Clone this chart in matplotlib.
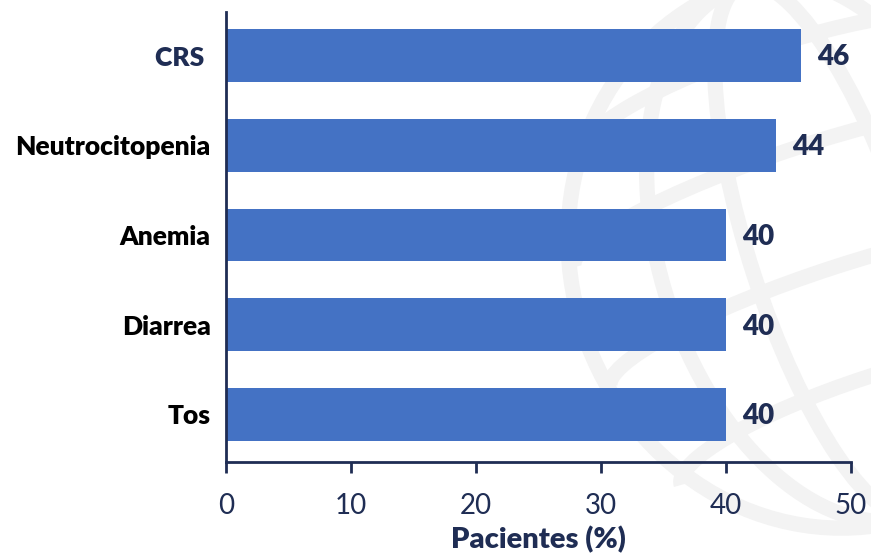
import numpy as np
import matplotlib.pyplot as plt
from matplotlib.patches import Ellipse, Arc

plt.rcParams['font.family'] = ['Lato', 'DejaVu Sans']

categories = ['Tos', 'Diarrea', 'Anemia', 'Neutrocitopenia', 'CRS ']
values = [40, 40, 40, 44, 46]
label_colors = ['black', 'black', 'black', 'black', '#1f2d54']
xticks = [0, 10, 20, 30, 40, 50]

navy = '#1f2d54'
bar_color = '#4472c4'

fig = plt.figure(figsize=(8.71, 5.53), dpi=100)

# faint globe watermark in the background
bg = fig.add_axes([0, 0, 1, 1], zorder=0)
bg.set_xlim(0, 871)
bg.set_ylim(553, 0)
bg.axis('off')
wm = '#f3f3f3'
cx, cy = 830, 250
for w in [520, 340, 160]:
    bg.add_patch(Ellipse((cx, cy), w, 560, angle=-18, fill=False, ec=wm, lw=11))
for dy, w in [(-160, 420), (-60, 500), (60, 500), (170, 420)]:
    bg.add_patch(Arc((cx + dy * 0.3, cy + dy), w, 90, angle=-18, theta1=180, theta2=360, ec=wm, lw=11))

ax = fig.add_axes([226 / 871, 1 - 462 / 553, 625 / 871, 450 / 553], zorder=1)
ax.patch.set_alpha(0)
y = np.arange(len(categories))
ax.barh(y, values, height=0.59, color=bar_color)

for yi, v in zip(y, values):
    ax.text(v + 1.3, yi - 0.02, f'{v}', va='center', ha='left',
            fontsize=20, fontweight='heavy', color=navy)

ax.set_xlim(0, 50)
ax.set_ylim(-0.53, 4.485)
ax.set_xticks(xticks)
ax.set_xticklabels([str(t) for t in xticks], fontsize=20, color=navy)
ax.set_yticks(y)
ax.set_yticklabels(categories, fontsize=19, fontweight='heavy')
for lbl, c in zip(ax.get_yticklabels(), label_colors):
    lbl.set_color(c)
ax.tick_params(axis='y', length=0, pad=11)
ax.tick_params(axis='x', length=8, width=2, color=navy, pad=14)
ax.set_xlabel('Pacientes (%)', fontsize=21, fontweight='heavy', color=navy, labelpad=5)

for s in ['top', 'right']:
    ax.spines[s].set_visible(False)
for s in ['left', 'bottom']:
    ax.spines[s].set_color(navy)
    ax.spines[s].set_linewidth(2)

fig.savefig('out.png', dpi=100)
